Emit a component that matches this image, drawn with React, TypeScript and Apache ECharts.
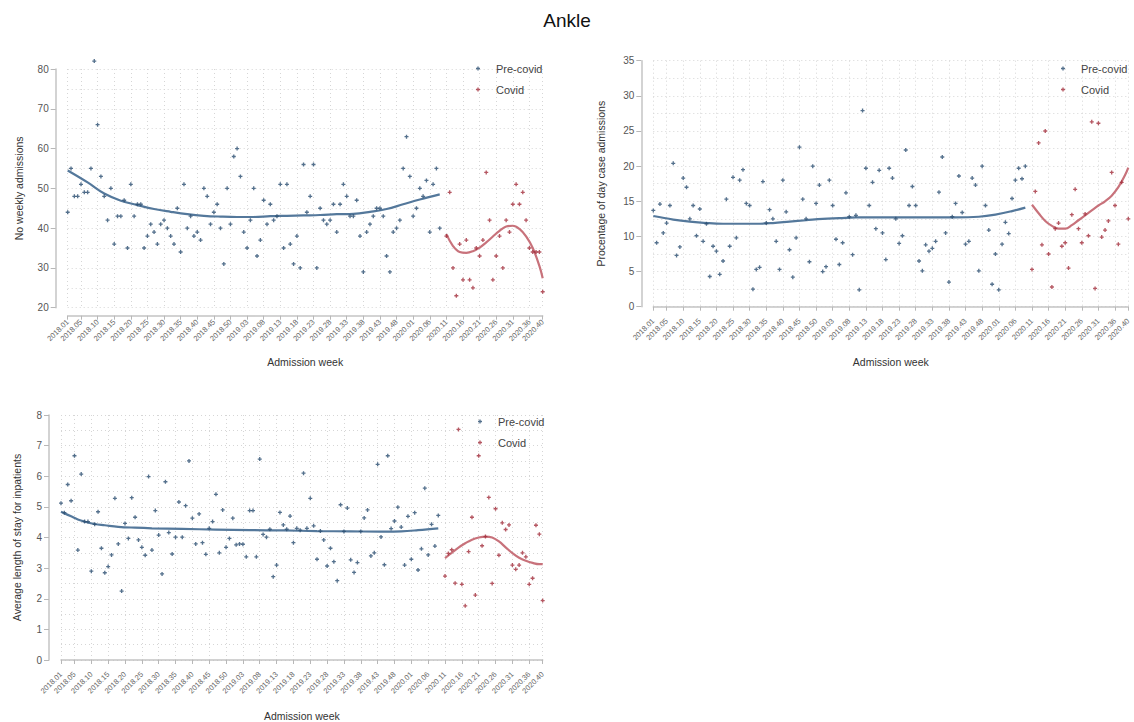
import React, { useEffect, useRef } from "react";
import * as echarts from "echarts";

// ---------- categories ----------
const yearWeeks: [number, number][] = [
  [2018, 52],
  [2019, 52],
  [2020, 40],
];
const weeks: string[] = [];
yearWeeks.forEach(([y, n]) => {
  for (let w = 1; w <= n; w++) weeks.push(`${y}.${w < 10 ? "0" + w : w}`);
});
const COVID_START = 114; // index of 2020.11

// ---------- panel 1: No weekly admissions ----------
const admPre: number[] = [
  44, 55, 48, 48, 51, 49, 49, 55, 82, 66,
  53, 48, 42, 50, 36, 43, 43, 47, 35, 51,
  43, 46, 46, 35, 38, 41, 39, 36, 41, 42,
  40, 38, 36, 45, 34, 51, 40, 43, 38, 39,
  37, 50, 48, 41, 44, 46, 40, 31, 50, 41,
  58, 60, 53, 39, 35, 42, 50, 33, 37, 47,
  41, 46, 42, 43, 51, 35, 51, 36, 31, 38,
  30, 56, 44, 48, 56, 30, 45, 42, 41, 42,
  46, 39, 46, 51, 48, 43, 43, 47, 38, 29,
  39, 41, 43, 45, 45, 43, 33, 29, 39, 40,
  42, 55, 63, 53, 43, 45, 50, 48, 52, 39,
  51, 55, 40,
];
const admCovid: number[] = [
  38, 49, 30, 23, 36, 27, 37, 27, 25, 35,
  33, 37, 54, 42, 27, 33, 38, 30, 42, 39,
  46, 51, 46, 49, 42, 35, 34, 34, 34, 24,
];
const admPreFit: [number, number][] = [
  [0, 54.5], [6, 51.5], [11, 48.7], [16, 46.9], [21, 45.8], [26, 44.8], [31, 44.1],
  [36, 43.5], [41, 43.1], [46, 42.9], [51, 42.8], [56, 42.8], [61, 43.0], [66, 43.1],
  [71, 43.2], [76, 43.3], [81, 43.5], [86, 43.6], [91, 44.1], [96, 44.8], [101, 46.0],
  [106, 47.2], [112, 48.5],
];
const admCovidFit: [number, number][] = [
  [114, 38.5], [116, 35.5], [118, 34.0], [120, 33.8], [122, 34.2], [124, 35.1],
  [126, 36.4], [128, 37.9], [130, 39.3], [132, 40.4], [134, 40.6], [136, 39.8],
  [138, 37.9], [140, 35.0], [142, 30.5], [143, 27.4],
];

// ---------- panel 2: Percentage of day case admissions ----------
const dayPre: number[] = [
  13.7, 9.1, 14.6, 10.5, 11.9, 14.4, 20.4, 7.3, 8.5, 18.3,
  17.0, 12.5, 14.4, 10.1, 13.9, 9.3, 11.8, 4.3, 8.6, 7.9,
  4.6, 6.5, 15.3, 8.6, 18.4, 9.8, 18.0, 19.5, 14.7, 14.4,
  2.5, 5.3, 5.6, 17.8, 11.9, 13.8, 12.5, 9.3, 5.3, 18.0,
  13.5, 8.1, 4.2, 9.8, 22.7, 15.3, 12.5, 6.4, 20.0, 14.7,
  17.3, 5.0, 5.7, 18.0, 14.4, 9.6, 6.0, 9.1, 16.2, 12.8,
  7.4, 13.0, 2.4, 27.9, 19.7, 14.4, 17.7, 11.1, 19.4, 10.5,
  6.7, 19.7, 18.3, 12.5, 9.0, 10.1, 22.3, 14.4, 17.1, 14.4,
  6.5, 5.1, 8.8, 7.9, 8.3, 9.3, 16.3, 21.3, 10.5, 3.5,
  12.8, 14.7, 18.6, 13.4, 8.9, 9.3, 18.3, 17.3, 5.1, 20.0,
  14.4, 10.9, 3.2, 7.5, 2.4, 8.9, 12.0, 10.4, 15.4, 18.0,
  19.7, 18.2, 20.0,
];
const dayCovid: (number | null)[] = [
  5.3, 16.4, 23.3, 8.8, 25.0, 7.5, 2.8, 11.1, 11.9, 8.6,
  9.1, 5.5, 13.1, 16.7, 11.1, 9.1, 13.2, 10.1, 26.3, 2.6,
  26.1, 9.9, 10.9, 12.2, 19.1, 14.4, 8.9, 17.7, null, 12.5,
];
const dayPreFit: [number, number][] = [
  [0, 12.9], [6, 12.4], [11, 12.1], [16, 11.9], [21, 11.8], [26, 11.8], [31, 11.8],
  [36, 11.9], [41, 12.1], [46, 12.3], [51, 12.5], [56, 12.6], [61, 12.7], [71, 12.7],
  [81, 12.7], [91, 12.7], [98, 12.8], [103, 13.1], [108, 13.6], [112, 14.1],
];
const dayCovidFit: [number, number][] = [
  [114, 14.5], [116, 13.3], [118, 12.2], [120, 11.5], [122, 11.1], [124, 11.1],
  [126, 11.6], [128, 12.3], [130, 13.0], [132, 13.7], [134, 14.4], [136, 15.0],
  [138, 15.8], [140, 17.0], [142, 18.7], [143, 19.8],
];

// ---------- panel 3: Average length of stay ----------
const losPre: number[] = [
  5.12, 4.81, 5.73, 5.20, 6.67, 3.59, 6.07, 4.52, 4.52, 2.90,
  4.43, 4.84, 3.65, 2.85, 3.05, 3.43, 5.28, 3.79, 2.25, 4.46,
  3.97, 5.30, 4.66, 3.92, 3.68, 3.42, 5.99, 3.59, 4.88, 4.08,
  2.81, 5.82, 4.16, 3.46, 4.01, 5.16, 4.01, 5.04, 6.50, 4.63,
  3.79, 4.77, 3.83, 3.45, 4.30, 4.52, 5.41, 3.50, 4.90, 3.68,
  3.97, 4.63, 3.76, 3.79, 3.78, 3.37, 4.88, 4.88, 3.37, 6.56,
  4.10, 4.01, 4.27, 2.72, 3.10, 4.82, 4.41, 4.27, 4.70, 3.83,
  4.30, 4.24, 6.10, 4.30, 5.28, 4.38, 3.29, 4.21, 3.92, 3.07,
  3.65, 3.21, 2.59, 5.07, 4.20, 4.96, 3.27, 2.86, 3.18, 4.20,
  4.64, 4.90, 3.40, 3.50, 6.39, 4.02, 3.11, 6.67, 4.29, 4.54,
  4.99, 4.34, 3.10, 4.69, 3.29, 4.81, 2.94, 3.63, 5.61, 3.43,
  4.43, 3.72, 4.72,
];
const losCovid: number[] = [
  2.74, 3.48, 3.60, 2.51, 7.53, 2.47, 1.77, 3.54, 4.66, 2.12,
  6.67, 3.73, 4.03, 5.31, 2.50, 4.94, 3.42, 4.48, 4.26, 4.41,
  3.10, 2.96, 3.10, 3.50, 3.37, 2.47, 2.67, 4.40, 4.11, 1.94,
];
const losPreFit: [number, number][] = [
  [0, 4.84], [3, 4.69], [5, 4.59], [7, 4.52], [10, 4.44], [13, 4.40], [17, 4.35],
  [22, 4.32], [27, 4.30], [36, 4.28], [46, 4.26], [56, 4.24], [66, 4.23], [76, 4.21],
  [86, 4.20], [96, 4.19], [101, 4.20], [106, 4.24], [112, 4.30],
];
const losCovidFit: [number, number][] = [
  [114, 3.33], [116, 3.5], [118, 3.67], [120, 3.81], [122, 3.93], [124, 4.0],
  [126, 4.03], [128, 4.0], [130, 3.87], [132, 3.68], [134, 3.49], [136, 3.34],
  [138, 3.24], [140, 3.17], [142, 3.13], [143, 3.13],
];

// ---------- styling ----------
const FONT = "Liberation Sans, Arial, Helvetica, sans-serif";
const BLUE = "#2a4d70";
const BLUE_FIT = "#54789b";
const RED = "#a22d3b";
const RED_FIT = "#c8727b";
const PLUS = "path://M1 0H2V1H3V2H2V3H1V2H0V1H1Z";
const GRID_LINE = { color: "#d6d6d6", width: 1, type: [1, 3] as number[] };

const labelShown = (idx: number) => idx === 0 || idx % 5 === 4 || idx === weeks.length - 1;

const panels = [
  {
    grid: { left: 67.7, top: 69, width: 475, height: 238.7 },
    y: { min: 20, max: 80, interval: 10, name: "No weekly admissions", nameGap: 31 },
    xNameGap: 41,
    legend: { left: 471, top: 58 },
    pre: admPre, covid: admCovid as (number | null)[], preFit: admPreFit, covidFit: admCovidFit,
  },
  {
    grid: { left: 653.3, top: 60.7, width: 475, height: 246 },
    y: { min: 0, max: 35, interval: 5, name: "Procentage of day case admissions", nameGap: 35 },
    xNameGap: 42,
    legend: { left: 1056, top: 58 },
    pre: dayPre, covid: dayCovid, preFit: dayPreFit, covidFit: dayCovidFit,
  },
  {
    grid: { left: 61, top: 415, width: 481.7, height: 245 },
    y: { min: 0, max: 8, interval: 1, name: "Average length of stay for inpatients", nameGap: 27 },
    xNameGap: 42,
    legend: { left: 473, top: 411 },
    pre: losPre, covid: losCovid as (number | null)[], preFit: losPreFit, covidFit: losCovidFit,
  },
];

function buildOption() {
  const grids: any[] = [];
  const xAxes: any[] = [];
  const yAxes: any[] = [];
  const legends: any[] = [];
  const series: any[] = [];

  panels.forEach((p, i) => {
    grids.push({ ...p.grid, containLabel: false });
    xAxes.push({
      type: "category",
      gridIndex: i,
      data: weeks,
      boundaryGap: false,
      offset: 8,
      axisLine: { show: true, lineStyle: { color: "#c4c4c4", width: 1.5 } },
      axisTick: { show: true, length: 4, interval: labelShown, lineStyle: { color: "#b8b8b8" } },
      axisLabel: {
        interval: labelShown,
        rotate: 45,
        fontSize: 7.5,
        color: "#666",
        margin: 5,
        fontFamily: FONT,
      },
      splitLine: { show: true, interval: labelShown, lineStyle: GRID_LINE },
      name: "Admission week",
      nameLocation: "middle",
      nameGap: p.xNameGap,
      nameTextStyle: { fontSize: 10.5, color: "#333", fontFamily: FONT },
    });
    yAxes.push({
      type: "value",
      gridIndex: i,
      min: p.y.min,
      max: p.y.max,
      interval: p.y.interval,
      offset: 12,
      axisLine: { show: true, lineStyle: { color: "#c4c4c4", width: 1.5 } },
      axisTick: { show: true, length: 5, lineStyle: { color: "#b8b8b8" } },
      axisLabel: { fontSize: 10, color: "#555", margin: 7, fontFamily: FONT },
      splitLine: { show: true, lineStyle: GRID_LINE },
      minorTick: { show: false, splitNumber: 2 },
      minorSplitLine: { show: true, lineStyle: GRID_LINE },
      name: p.y.name,
      nameLocation: "middle",
      nameGap: p.y.nameGap,
      nameTextStyle: { fontSize: 10.5, color: "#333", fontFamily: FONT },
    });
    legends.push({
      orient: "vertical",
      left: p.legend.left,
      top: p.legend.top,
      itemWidth: 26,
      itemHeight: 4,
      itemGap: 10,
      textStyle: { fontSize: 11, color: "#444", fontFamily: FONT },
      data: [
        { name: "Pre-covid", icon: PLUS },
        { name: "Covid", icon: PLUS },
      ],
    });
    series.push({
      type: "line",
      name: "Pre-covid fit",
      xAxisIndex: i,
      yAxisIndex: i,
      data: p.preFit,
      smooth: 0.4,
      showSymbol: false,
      lineStyle: { color: BLUE_FIT, width: 2.2 },
      itemStyle: { color: BLUE_FIT },
      z: 3,
    });
    series.push({
      type: "line",
      name: "Covid fit",
      xAxisIndex: i,
      yAxisIndex: i,
      data: p.covidFit,
      smooth: 0.4,
      showSymbol: false,
      lineStyle: { color: RED_FIT, width: 2.2 },
      itemStyle: { color: RED_FIT },
      z: 3,
    });
    series.push({
      type: "scatter",
      name: "Pre-covid",
      xAxisIndex: i,
      yAxisIndex: i,
      symbol: PLUS,
      symbolSize: 4,
      clip: false,
      itemStyle: { color: BLUE },
      data: p.pre.map((v, k) => [k, v]),
      z: 4,
    });
    series.push({
      type: "scatter",
      name: "Covid",
      xAxisIndex: i,
      yAxisIndex: i,
      symbol: PLUS,
      symbolSize: 4,
      clip: false,
      itemStyle: { color: RED },
      data: p.covid
        .map((v, k) => [COVID_START + k, v])
        .filter((d) => d[1] !== null),
      z: 4,
    });
  });

  return {
    animation: false,
    backgroundColor: "#ffffff",
    title: {
      text: "Ankle",
      left: "center",
      top: 6,
      textStyle: { fontSize: 19, fontWeight: "normal", color: "#111", fontFamily: FONT },
    },
    grid: grids,
    xAxis: xAxes,
    yAxis: yAxes,
    legend: legends,
    series,
  };
}

export default function App() {
  const ref = useRef<HTMLDivElement>(null);
  useEffect(() => {
    if (!ref.current) return;
    const chart = echarts.init(ref.current, undefined, { renderer: "svg" });
    chart.setOption(buildOption() as any);
    return () => chart.dispose();
  }, []);
  return (
    <div
      ref={ref}
      style={{ position: "absolute", left: 0, top: 0, width: 1134, height: 722, background: "#fff" }}
    />
  );
}
